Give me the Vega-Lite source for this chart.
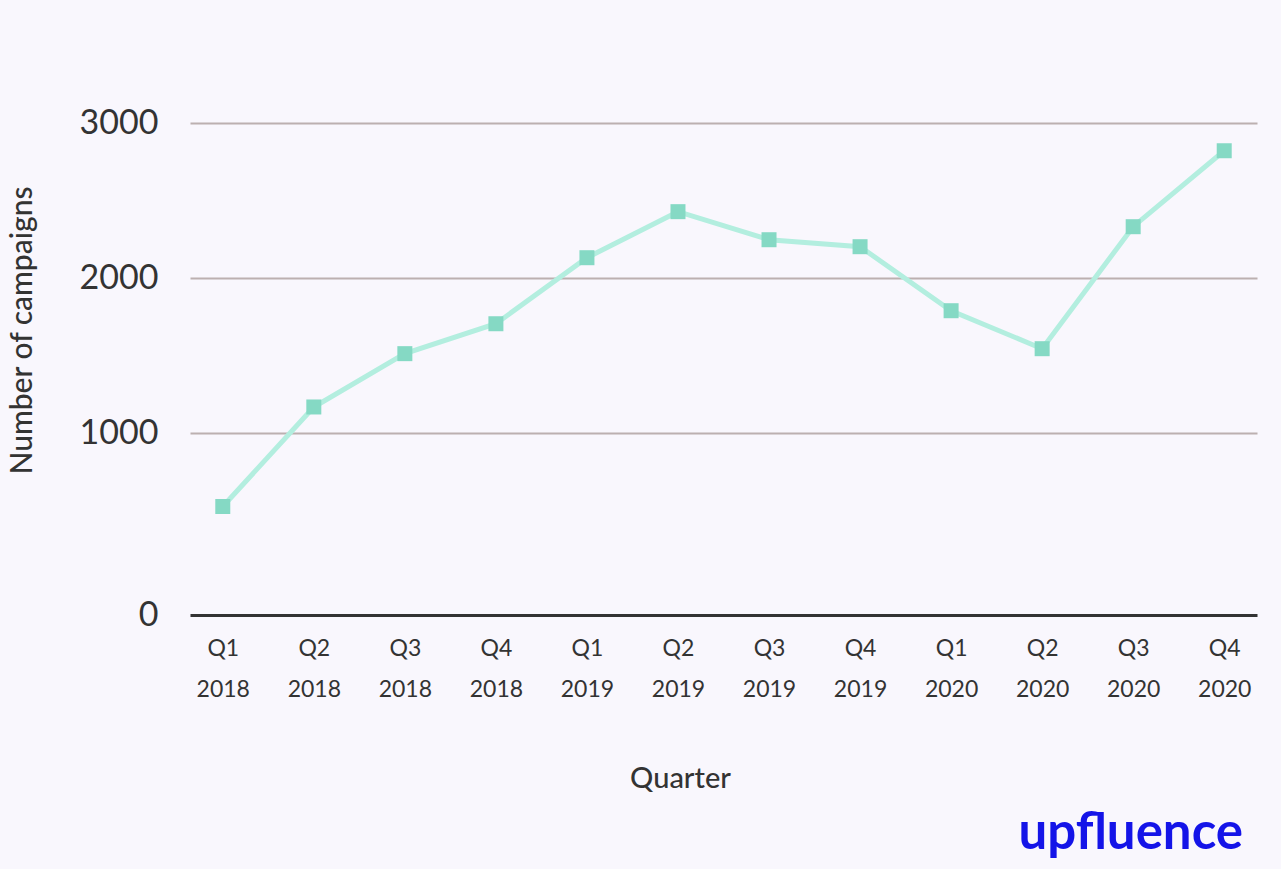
{
  "$schema": "https://vega.github.io/schema/vega-lite/v6.json",
  "width": 1067,
  "height": 523,
  "autosize": {"type": "none"},
  "padding": {"left": 190, "top": 92, "right": 24, "bottom": 254},
  "background": "#f9f7fd",
  "title": {
    "text": "upfluence",
    "orient": "bottom",
    "anchor": "end",
    "font": "Lato",
    "fontSize": 51,
    "fontWeight": "bold",
    "color": "#1414e8",
    "offset": 16,
    "dx": -14
  },
  "config": {
    "view": {"stroke": null},
    "font": "Lato"
  },
  "data": {
    "values": [
      {"quarter": "Q1 2018", "campaigns": 526},
      {"quarter": "Q2 2018", "campaigns": 1168},
      {"quarter": "Q3 2018", "campaigns": 1512},
      {"quarter": "Q4 2018", "campaigns": 1705},
      {"quarter": "Q1 2019", "campaigns": 2131},
      {"quarter": "Q2 2019", "campaigns": 2428},
      {"quarter": "Q3 2019", "campaigns": 2247},
      {"quarter": "Q4 2019", "campaigns": 2202},
      {"quarter": "Q1 2020", "campaigns": 1789},
      {"quarter": "Q2 2020", "campaigns": 1544},
      {"quarter": "Q3 2020", "campaigns": 2331},
      {"quarter": "Q4 2020", "campaigns": 2821}
    ]
  },
  "encoding": {
    "x": {
      "field": "quarter",
      "type": "ordinal",
      "sort": null,
      "scale": {"type": "point", "padding": 0.36},
      "axis": {
        "title": "Quarter",
        "titleFont": "Lato",
        "titleFontSize": 29,
        "titleFontWeight": 500,
        "titleColor": "#333333",
        "titleX": 490,
        "titleY": 163,
        "titleBaseline": "middle",
        "titleAnchor": "middle",
        "titleAlign": "center",
        "labelExpr": "split(datum.label, ' ')",
        "labelAngle": 0,
        "labelFont": "Lato",
        "labelFontSize": 23,
        "labelColor": "#333333",
        "labelLineHeight": 41,
        "labelPadding": 22,
        "labelBaseline": "top",
        "ticks": false,
        "domainColor": "#333333",
        "domainWidth": 3,
        "grid": false
      }
    },
    "y": {
      "field": "campaigns",
      "type": "quantitative",
      "scale": {"domain": [-174, 3200], "nice": false, "zero": false},
      "axis": {
        "title": "Number of campaigns",
        "titleFont": "Lato",
        "titleFontSize": 30,
        "titleFontWeight": 500,
        "titleColor": "#333333",
        "titleAngle": -90,
        "titleX": -168,
        "titleY": 238,
        "titleAlign": "center",
        "titleBaseline": "middle",
        "values": [-174, 1000, 2000, 3000],
        "labelExpr": "datum.value < 0 ? '0' : datum.label",
        "format": "d",
        "labelFont": "Lato",
        "labelFontSize": 34,
        "labelColor": "#333333",
        "labelPadding": 32,
        "ticks": false,
        "domain": false,
        "grid": true,
        "gridColor": {"condition": {"test": "datum.value < 0", "value": "transparent"}, "value": "#bcb0b0"},
        "gridWidth": 2
      }
    }
  },
  "layer": [
    {
      "mark": {"type": "line", "color": "#b3eedf", "strokeWidth": 5}
    },
    {
      "mark": {"type": "point", "shape": "square", "filled": true, "size": 225, "color": "#85d9c4", "opacity": 1}
    }
  ]
}
